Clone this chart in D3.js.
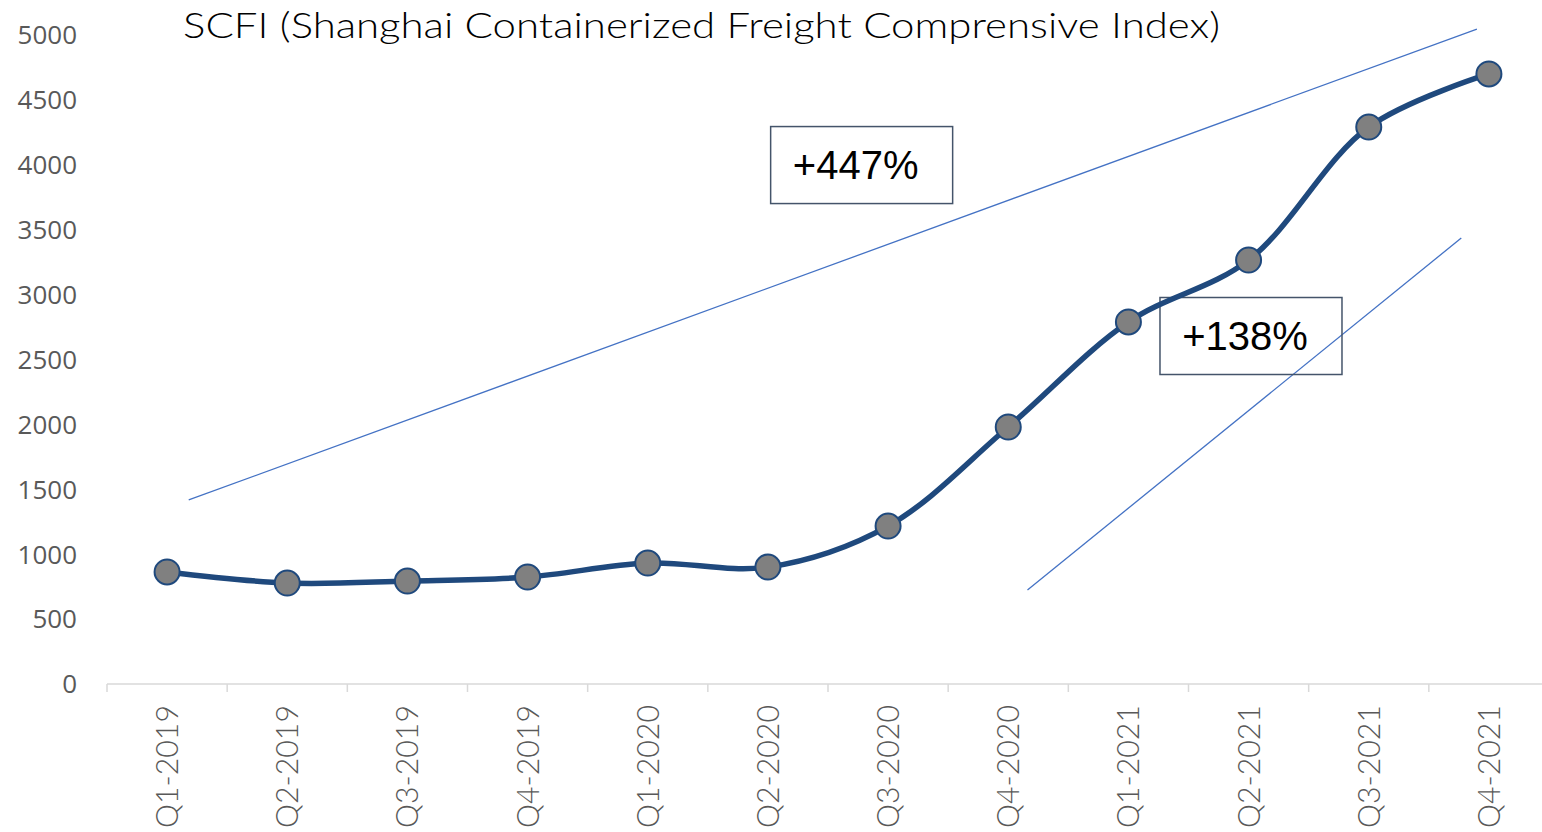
<!DOCTYPE html>
<html>
<head>
<meta charset="utf-8">
<script src="https://cdn.jsdelivr.net/npm/d3@7"></script>
<style>
  body { margin: 0; background: #fff; }
  svg { display: block; }
</style>
</head>
<body>
<div id="chart"></div>
<script>
// quarters and SCFI values
const quarters = ['Q1-2019', 'Q2-2019', 'Q3-2019', 'Q4-2019', 'Q1-2020', 'Q2-2020',
  'Q3-2020', 'Q4-2020', 'Q1-2021', 'Q2-2021', 'Q3-2021', 'Q4-2021'];
const scfi = [863, 778, 793, 824, 932, 901, 1217, 1980, 2789, 3266, 4291, 4700];
const yTicks = [0, 500, 1000, 1500, 2000, 2500, 3000, 3500, 4000, 4500, 5000];

// trend arrows: [category index (fractional), value]
const trendLong = [[0.18, 1418], [10.9, 5046]];
const trendShort = [[7.16, 724], [10.77, 3436]];
const notes = [
  { text: '+447%', at: [5.78, 3998] },
  { text: '+138%', at: [9.02, 2681] }
];

const W = 1542, H = 832;
const margin = { top: 35, right: -7, bottom: 148, left: 107 };

const svg = d3.select('#chart').append('svg')
  .attr('width', W)
  .attr('height', H);

const x = d3.scaleBand()
  .domain(quarters)
  .range([margin.left, W - margin.right]);

const y = d3.scaleLinear()
  .domain([0, 5000])
  .range([H - margin.bottom, margin.top]);

// index -> pixel centre
const xi = (i) => x(quarters[0]) + x.bandwidth() / 2 + i * x.step();

// x axis with ticks between categories
const xAxis = svg.append('g')
  .attr('transform', 'translate(0,' + y(0) + ')');
xAxis.append('line')
  .attr('x1', margin.left).attr('x2', W - margin.right)
  .attr('stroke', '#d9d9d9').attr('stroke-width', 1.5);
xAxis.selectAll('line.tick')
  .data(quarters)
  .join('line')
  .attr('class', 'tick')
  .attr('x1', (d) => x(d)).attr('x2', (d) => x(d))
  .attr('y1', 0).attr('y2', 8)
  .attr('stroke', '#d9d9d9').attr('stroke-width', 1.5);
xAxis.selectAll('text')
  .data(quarters)
  .join('text')
  .attr('transform', (d) => 'translate(' + (x(d) + x.bandwidth() / 2 + 11) + ',21) rotate(-90)')
  .attr('text-anchor', 'end')
  .attr('textLength', 123)
  .attr('lengthAdjust', 'spacingAndGlyphs')
  .style('font-family', 'Lato, "DejaVu Sans", sans-serif')
  .style('font-weight', 300)
  .style('font-size', '31px')
  .attr('fill', '#595959')
  .text((d) => d);

// y axis labels (no line)
svg.append('g')
  .selectAll('text')
  .data(yTicks)
  .join('text')
  .attr('x', 77)
  .attr('y', (d) => y(d))
  .attr('dy', '0.36em')
  .attr('text-anchor', 'end')
  .style('font-family', '"Open Sans", "Noto Sans", sans-serif')
  .style('font-size', '26px')
  .attr('fill', '#595959')
  .text((d) => d);

// title
svg.append('text')
  .attr('x', 183)
  .attr('y', 38)
  .attr('textLength', 1037)
  .attr('lengthAdjust', 'spacingAndGlyphs')
  .style('font-family', 'Lato, "DejaVu Sans", sans-serif')
  .style('font-weight', 300)
  .style('font-size', '36px')
  .attr('fill', '#000')
  .text('SCFI (Shanghai Containerized Freight Comprensive Index)');

// trend lines
const trendLine = d3.line()
  .x((d) => xi(d[0]))
  .y((d) => y(d[1]));
[trendLong, trendShort].forEach((t) => {
  svg.append('path')
    .datum(t)
    .attr('d', trendLine)
    .attr('fill', 'none')
    .attr('stroke', '#4472c4')
    .attr('stroke-width', 1.3);
});

// annotation boxes (drawn under the series)
const boxW = 182, boxH = 77;
const note = svg.append('g')
  .selectAll('g')
  .data(notes)
  .join('g')
  .attr('transform', (d) => 'translate(' + xi(d.at[0]) + ',' + y(d.at[1]) + ')');
note.append('rect')
  .attr('x', -boxW / 2).attr('y', -boxH / 2)
  .attr('width', boxW).attr('height', boxH)
  .attr('fill', 'none')
  .attr('stroke', '#44546a')
  .attr('stroke-width', 1.5);
note.append('text')
  .attr('x', -6)
  .attr('dy', '0.36em')
  .attr('text-anchor', 'middle')
  .style('font-family', '"Liberation Sans", Arial, sans-serif')
  .style('font-size', '40px')
  .attr('fill', '#000')
  .text((d) => d.text);

// main smoothed line
const line = d3.line()
  .curve(d3.curveCatmullRom.alpha(0.5))
  .x((d, i) => xi(i))
  .y((d) => y(d));
svg.append('path')
  .datum(scfi)
  .attr('d', line)
  .attr('fill', 'none')
  .attr('stroke', '#1f497d')
  .attr('stroke-width', 5.5)
  .attr('stroke-linejoin', 'round');

svg.append('g')
  .selectAll('circle')
  .data(scfi)
  .join('circle')
  .attr('cx', (d, i) => xi(i))
  .attr('cy', (d) => y(d))
  .attr('r', 12.5)
  .attr('fill', '#808080')
  .attr('stroke', '#1f497d')
  .attr('stroke-width', 2);
</script>
</body>
</html>
